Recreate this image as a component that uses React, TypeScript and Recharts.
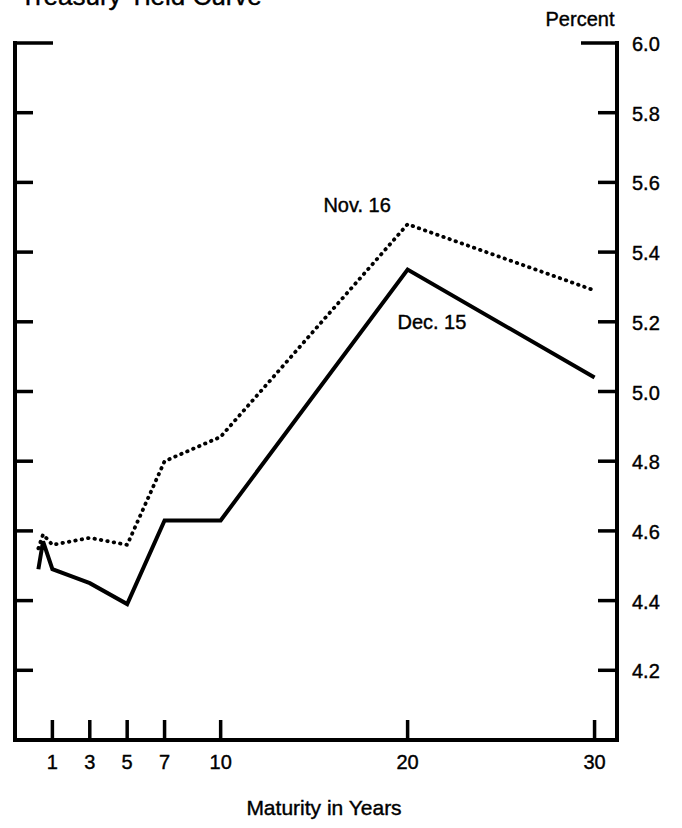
import React from 'react';
import { LineChart, Line, XAxis, YAxis, ReferenceDot } from 'recharts';

const maturities = [0.25, 0.5, 1, 2, 3, 5, 7, 10, 20, 30];
const nov16 = [4.55, 4.59, 4.56, 4.57, 4.58, 4.56, 4.8, 4.87, 5.48, 5.29];
const dec15 = [4.49, 4.57, 4.49, 4.47, 4.45, 4.39, 4.63, 4.63, 5.35, 5.04];
const xTicks = [1, 3, 5, 7, 10, 20, 30];
const yTicks = [4.2, 4.4, 4.6, 4.8, 5.0, 5.2, 5.4, 5.6, 5.8, 6.0];
const seriesLabels = [
  { text: 'Nov. 16', m: 17.3, v: 5.535 },
  { text: 'Dec. 15', m: 21.3, v: 5.2 },
];

const data = maturities.map((m, i) => ({ m, nov: nov16[i], dec: dec15[i] }));

const FONT = '"Liberation Sans", Arial, Helvetica, sans-serif';
const TEXT_STYLE = { stroke: '#000', strokeWidth: 0.4 };

const XTick = (props: any) => {
  const { x, y, payload } = props;
  return (
    <g>
      <line x1={x} x2={x} y1={y} y2={y - 20} stroke="#000" strokeWidth={3.5} />
      <text x={x} y={y + 22} textAnchor="middle" dominantBaseline="central" fontSize={20} fontFamily={FONT} fill="#000" style={TEXT_STYLE}>
        {payload.value}
      </text>
    </g>
  );
};

const LeftTick = (props: any) => {
  const { x, y, payload } = props;
  const len = payload.value >= 6 ? 38 : 18;
  return <line x1={x} x2={x + len} y1={y} y2={y} stroke="#000" strokeWidth={3.5} />;
};

const RightTick = (props: any) => {
  const { x, y, payload } = props;
  const len = payload.value >= 6 ? 36 : 19;
  return (
    <g>
      <line x1={x} x2={x - len} y1={y} y2={y} stroke="#000" strokeWidth={3.5} />
      <text x={x + 15} y={y + 1} textAnchor="start" dominantBaseline="central" fontSize={20} fontFamily={FONT} fill="#000" style={TEXT_STYLE}>
        {Number(payload.value).toFixed(1)}
      </text>
    </g>
  );
};

export default function App() {
  return (
    <div style={{ position: 'absolute', left: 0, top: 0, width: 682, height: 828, background: '#fff' }}>
      <LineChart width={682} height={828} data={data} margin={{ top: 43, right: 64, bottom: 87, left: 14 }}>
        <XAxis
          dataKey="m"
          type="number"
          domain={[-1, 31.2]}
          ticks={xTicks}
          interval={0}
          height={1}
          tickSize={0}
          tickMargin={0}
          tickLine={false}
          tick={<XTick />}
          axisLine={{ stroke: '#000', strokeWidth: 4, strokeLinecap: 'square' }}
          allowDataOverflow
        />
        <YAxis
          yAxisId="l"
          orientation="left"
          type="number"
          domain={[4, 6]}
          ticks={yTicks}
          interval={0}
          width={1}
          tickSize={0}
          tickMargin={0}
          tickLine={false}
          tick={<LeftTick />}
          axisLine={{ stroke: '#000', strokeWidth: 4, strokeLinecap: 'square' }}
          allowDataOverflow
        />
        <YAxis
          yAxisId="r"
          orientation="right"
          type="number"
          domain={[4, 6]}
          ticks={yTicks}
          interval={0}
          width={1}
          tickSize={0}
          tickMargin={0}
          tickLine={false}
          tick={<RightTick />}
          axisLine={{ stroke: '#000', strokeWidth: 4, strokeLinecap: 'square' }}
          allowDataOverflow
        />
        <Line
          yAxisId="l"
          type="linear"
          dataKey="nov"
          stroke="#000"
          strokeWidth={3.8}
          strokeDasharray="0.5 6"
          strokeLinecap="round"
          dot={false}
          isAnimationActive={false}
        />
        <Line
          yAxisId="r"
          type="linear"
          dataKey="dec"
          stroke="#000"
          strokeWidth={4}
          dot={false}
          isAnimationActive={false}
        />
        {seriesLabels.map((l) => (
          <ReferenceDot
            key={l.text}
            yAxisId="r"
            x={l.m}
            y={l.v}
            r={1}
            fill="none"
            stroke="none"
            label={{ value: l.text, position: 'center', fontSize: 20, fill: '#000', fontFamily: FONT, style: TEXT_STYLE }}
          />
        ))}
      </LineChart>
      <svg width={682} height={828} style={{ position: 'absolute', left: 0, top: 0, pointerEvents: 'none' }}>
        <text x={20} y={5} fontSize={26} fontFamily={FONT} fill="#000" style={TEXT_STYLE}>Treasury Yield Curve</text>
        <text x={580} y={26} textAnchor="middle" fontSize={20} fontFamily={FONT} fill="#000" style={TEXT_STYLE}>Percent</text>
        <text x={324} y={815} textAnchor="middle" fontSize={21} fontFamily={FONT} fill="#000" style={TEXT_STYLE}>Maturity in Years</text>
      </svg>
    </div>
  );
}
